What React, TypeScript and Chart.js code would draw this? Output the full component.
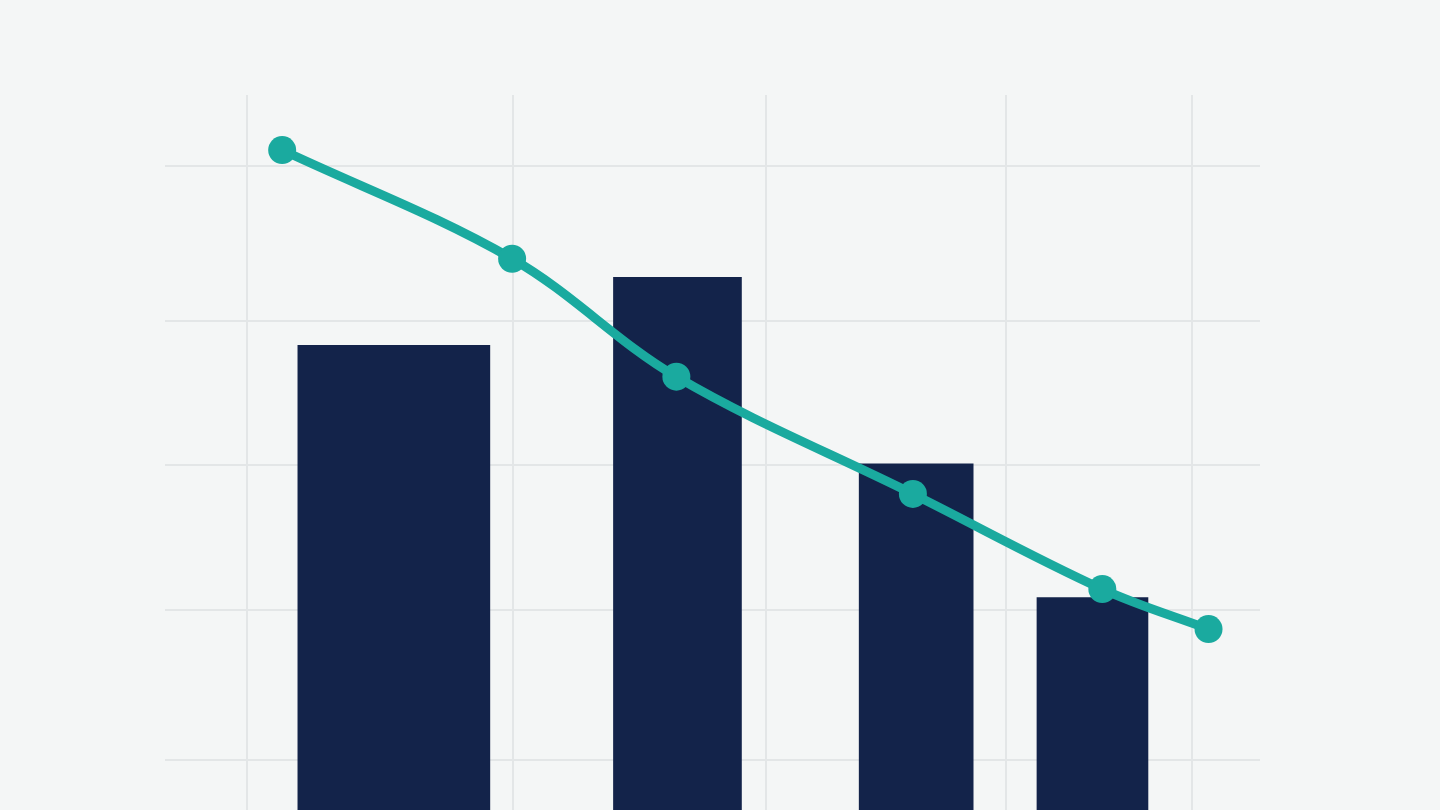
import { useEffect, useRef } from "react";
import { Chart, registerables } from "chart.js";

Chart.register(...registerables);

// x runs 0..100 across the plot, y runs 0..100 from the bottom edge up
const barCenters = [20.9, 46.8, 68.6, 84.7];
const barValues = [65.0, 74.5, 48.4, 29.7];
const barWidthsPx = [192, 128, 114, 111];

const lineX = [10.7, 31.7, 46.7, 68.3, 85.6, 95.3];
const lineValues = [92.3, 77.1, 60.6, 44.2, 30.9, 25.3];

const xGridValues = [7.5, 31.8, 54.9, 76.8, 93.8];
const yGridValues = [7.0, 28.0, 48.3, 68.4, 90.1];

const NAVY = "#13234a";
const TEAL = "#1aaa9f";
const GRID = "#e3e6e7";

export default function App() {
  const canvasRef = useRef<HTMLCanvasElement | null>(null);

  useEffect(() => {
    if (!canvasRef.current) return;
    document.body.style.margin = "0";

    const barSets = barValues.map((v, i) => ({
      type: "bar" as const,
      data: [{ x: barCenters[i], y: v }],
      backgroundColor: NAVY,
      borderWidth: 0,
      barThickness: barWidthsPx[i],
      grouped: false,
      order: 2,
    }));

    const chart = new Chart(canvasRef.current, {
      type: "bar",
      data: {
        datasets: [
          {
            type: "line",
            data: lineX.map((x, i) => ({ x, y: lineValues[i] })),
            borderColor: TEAL,
            backgroundColor: TEAL,
            borderWidth: 9,
            pointRadius: 14,
            pointBackgroundColor: TEAL,
            pointBorderWidth: 0,
            tension: 0.35,
            order: 0,
          } as any,
          ...barSets,
        ],
      },
      options: {
        responsive: false,
        animation: false,
        layout: { padding: { left: 165, right: 180, top: 95, bottom: 0 } },
        plugins: { legend: { display: false }, tooltip: { enabled: false } },
        scales: {
          x: {
            type: "linear",
            min: 0,
            max: 100,
            offset: false,
            afterBuildTicks: (axis) => {
              axis.ticks = xGridValues.map((value) => ({ value }));
            },
            ticks: { display: false, padding: 0 },
            border: { display: false },
            grid: { color: GRID, lineWidth: 2, drawTicks: false, offset: false },
          },
          y: {
            min: 0,
            max: 100,
            afterBuildTicks: (axis) => {
              axis.ticks = yGridValues.map((value) => ({ value }));
            },
            ticks: { display: false, padding: 0 },
            border: { display: false },
            grid: { color: GRID, lineWidth: 2, drawTicks: false },
          },
        },
      },
    });

    return () => chart.destroy();
  }, []);

  // canvas is a little taller than the view so the plot's floor sits at the bottom edge
  return (
    <div style={{ width: 1440, height: 810, background: "#f4f6f6", overflow: "hidden" }}>
      <canvas ref={canvasRef} width={1440} height={824} style={{ display: "block" }} />
    </div>
  );
}
